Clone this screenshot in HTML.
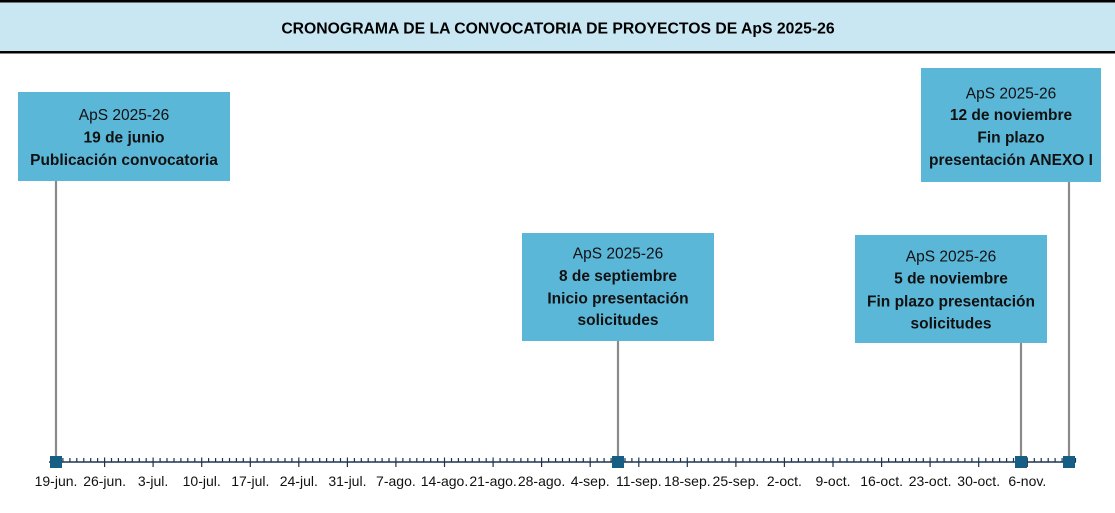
<!DOCTYPE html>
<html>
<head>
<meta charset="utf-8">
<style>
  html,body{margin:0;padding:0;background:#fff;}
  body{width:1115px;height:513px;overflow:hidden;}
  svg{display:block;}
  text{font-family:"Liberation Sans", Arial, sans-serif;fill:#111;}
  .r{font-size:15.5px;font-weight:normal;}
  .b{font-size:15.5px;font-weight:bold;}
  .ax{font-size:14px;fill:#111;}
</style>
</head>
<body>
<svg width="1115" height="513" viewBox="0 0 1115 513" xmlns="http://www.w3.org/2000/svg">
  <!-- Header -->
  <rect x="0" y="0" width="1115" height="52" fill="#c9e7f2"/>
  <rect x="0" y="0" width="1115" height="2.5" fill="#000"/>
  <rect x="0" y="51" width="1115" height="2.5" fill="#000"/>
  <text x="558" y="33.3" text-anchor="middle" style="font-size:15.75px;font-weight:bold;fill:#000;">CRONOGRAMA DE LA CONVOCATORIA DE PROYECTOS DE ApS 2025-26</text>

  <!-- Connector lines -->
  <g stroke="#8a8a8a" stroke-width="2.2">
    <line x1="56" y1="181" x2="56" y2="462"/>
    <line x1="618" y1="340" x2="618" y2="462"/>
    <line x1="1021" y1="342" x2="1021" y2="462"/>
    <line x1="1069" y1="181" x2="1069" y2="462"/>
  </g>

  <!-- Boxes -->
  <g fill="#5bb7d8">
    <rect x="18" y="92" width="212" height="89"/>
    <rect x="522" y="233" width="192" height="108"/>
    <rect x="855" y="235" width="192" height="108"/>
    <rect x="921" y="68" width="180" height="114"/>
  </g>

  <!-- Box 1 text -->
  <g text-anchor="middle">
    <text class="r" x="124" y="120">ApS 2025-26</text>
    <text class="b" x="124" y="142.5">19 de junio</text>
    <text class="b" x="124" y="165">Publicación convocatoria</text>
  </g>
  <!-- Box 2 text -->
  <g text-anchor="middle">
    <text class="r" x="618" y="258.3">ApS 2025-26</text>
    <text class="b" x="618" y="281">8 de septiembre</text>
    <text class="b" x="618" y="303.3">Inicio presentación</text>
    <text class="b" x="618" y="325">solicitudes</text>
  </g>
  <!-- Box 3 text -->
  <g text-anchor="middle">
    <text class="r" x="951" y="261.7">ApS 2025-26</text>
    <text class="b" x="951" y="283.5">5 de noviembre</text>
    <text class="b" x="951" y="306.5">Fin plazo presentación</text>
    <text class="b" x="951" y="328.3">solicitudes</text>
  </g>
  <!-- Box 4 text -->
  <g text-anchor="middle">
    <text class="r" x="1011" y="98.3">ApS 2025-26</text>
    <text class="b" x="1011" y="120">12 de noviembre</text>
    <text class="b" x="1011" y="142.7">Fin plazo</text>
    <text class="b" x="1011" y="165">presentación ANEXO I</text>
  </g>

  <!-- Axis -->
  <line x1="49" y1="462" x2="1076" y2="462" stroke="#1b3550" stroke-width="1.5"/>
  <g stroke="#1b3550" stroke-width="1.2">
    <!-- minor ticks (daily) -->
    <path d="
M62.9 458V462M69.9 458V462M76.8 458V462M83.8 458V462M90.7 458V462M97.6 458V462
M111.5 458V462M118.4 458V462M125.4 458V462M132.3 458V462M139.3 458V462M146.2 458V462
M160.1 458V462M167.0 458V462M174.0 458V462M180.9 458V462M187.8 458V462M194.8 458V462
M208.6 458V462M215.6 458V462M222.5 458V462M229.5 458V462M236.4 458V462M243.3 458V462
M257.2 458V462M264.1 458V462M271.1 458V462M278.0 458V462M285.0 458V462M291.9 458V462
M305.8 458V462M312.7 458V462M319.7 458V462M326.6 458V462M333.5 458V462M340.5 458V462
M354.4 458V462M361.3 458V462M368.2 458V462M375.2 458V462M382.1 458V462M389.0 458V462
M402.9 458V462M409.9 458V462M416.8 458V462M423.7 458V462M430.7 458V462M437.6 458V462
M451.5 458V462M458.4 458V462M465.4 458V462M472.3 458V462M479.2 458V462M486.2 458V462
M500.1 458V462M507.0 458V462M513.9 458V462M520.9 458V462M527.8 458V462M534.8 458V462
M548.6 458V462M555.6 458V462M562.5 458V462M569.4 458V462M576.4 458V462M583.3 458V462
M597.2 458V462M604.1 458V462M611.1 458V462M618.0 458V462M625.0 458V462M631.9 458V462
M645.8 458V462M652.7 458V462M659.6 458V462M666.6 458V462M673.5 458V462M680.5 458V462
M694.3 458V462M701.3 458V462M708.2 458V462M715.1 458V462M722.1 458V462M729.0 458V462
M742.9 458V462M749.8 458V462M756.8 458V462M763.7 458V462M770.7 458V462M777.6 458V462
M791.5 458V462M798.4 458V462M805.3 458V462M812.3 458V462M819.2 458V462M826.2 458V462
M840.0 458V462M847.0 458V462M853.9 458V462M860.9 458V462M867.8 458V462M874.7 458V462
M888.6 458V462M895.6 458V462M902.5 458V462M909.4 458V462M916.4 458V462M923.3 458V462
M937.2 458V462M944.1 458V462M951.1 458V462M958.0 458V462M964.9 458V462M971.9 458V462
M985.8 458V462M992.7 458V462M999.6 458V462M1006.6 458V462M1013.5 458V462M1020.4 458V462
M1034.3 458V462M1041.2 458V462M1048.2 458V462M1055.1 458V462M1062.1 458V462M1069.0 458V462
M1075.5 458V462"/>
    <!-- major ticks (weekly) -->
    <path d="
M56.0 457.5V467M104.6 457.5V467M153.1 457.5V467M201.7 457.5V467M250.3 457.5V467
M298.8 457.5V467M347.4 457.5V467M395.9 457.5V467M444.5 457.5V467M493.1 457.5V467
M541.6 457.5V467M590.2 457.5V467M638.8 457.5V467M687.3 457.5V467M735.9 457.5V467
M784.4 457.5V467M833.0 457.5V467M881.6 457.5V467M930.1 457.5V467M978.7 457.5V467
M1027.3 457.5V467"/>
  </g>

  <!-- Markers -->
  <g fill="#175e84">
    <rect x="50" y="456" width="12" height="12"/>
    <rect x="612" y="456" width="12" height="12"/>
    <rect x="1015" y="456" width="12" height="12"/>
    <rect x="1063" y="456" width="12" height="12"/>
  </g>

  <!-- Axis labels -->
  <g text-anchor="middle" class="ax">
    <text class="ax" x="56.0" y="486">19-jun.</text>
    <text class="ax" x="104.6" y="486">26-jun.</text>
    <text class="ax" x="153.1" y="486">3-jul.</text>
    <text class="ax" x="201.7" y="486">10-jul.</text>
    <text class="ax" x="250.3" y="486">17-jul.</text>
    <text class="ax" x="298.8" y="486">24-jul.</text>
    <text class="ax" x="347.4" y="486">31-jul.</text>
    <text class="ax" x="395.9" y="486">7-ago.</text>
    <text class="ax" x="444.5" y="486">14-ago.</text>
    <text class="ax" x="493.1" y="486">21-ago.</text>
    <text class="ax" x="541.6" y="486">28-ago.</text>
    <text class="ax" x="590.2" y="486">4-sep.</text>
    <text class="ax" x="638.8" y="486">11-sep.</text>
    <text class="ax" x="687.3" y="486">18-sep.</text>
    <text class="ax" x="735.9" y="486">25-sep.</text>
    <text class="ax" x="784.4" y="486">2-oct.</text>
    <text class="ax" x="833.0" y="486">9-oct.</text>
    <text class="ax" x="881.6" y="486">16-oct.</text>
    <text class="ax" x="930.1" y="486">23-oct.</text>
    <text class="ax" x="978.7" y="486">30-oct.</text>
    <text class="ax" x="1027.3" y="486">6-nov.</text>
  </g>
</svg>
</body>
</html>
